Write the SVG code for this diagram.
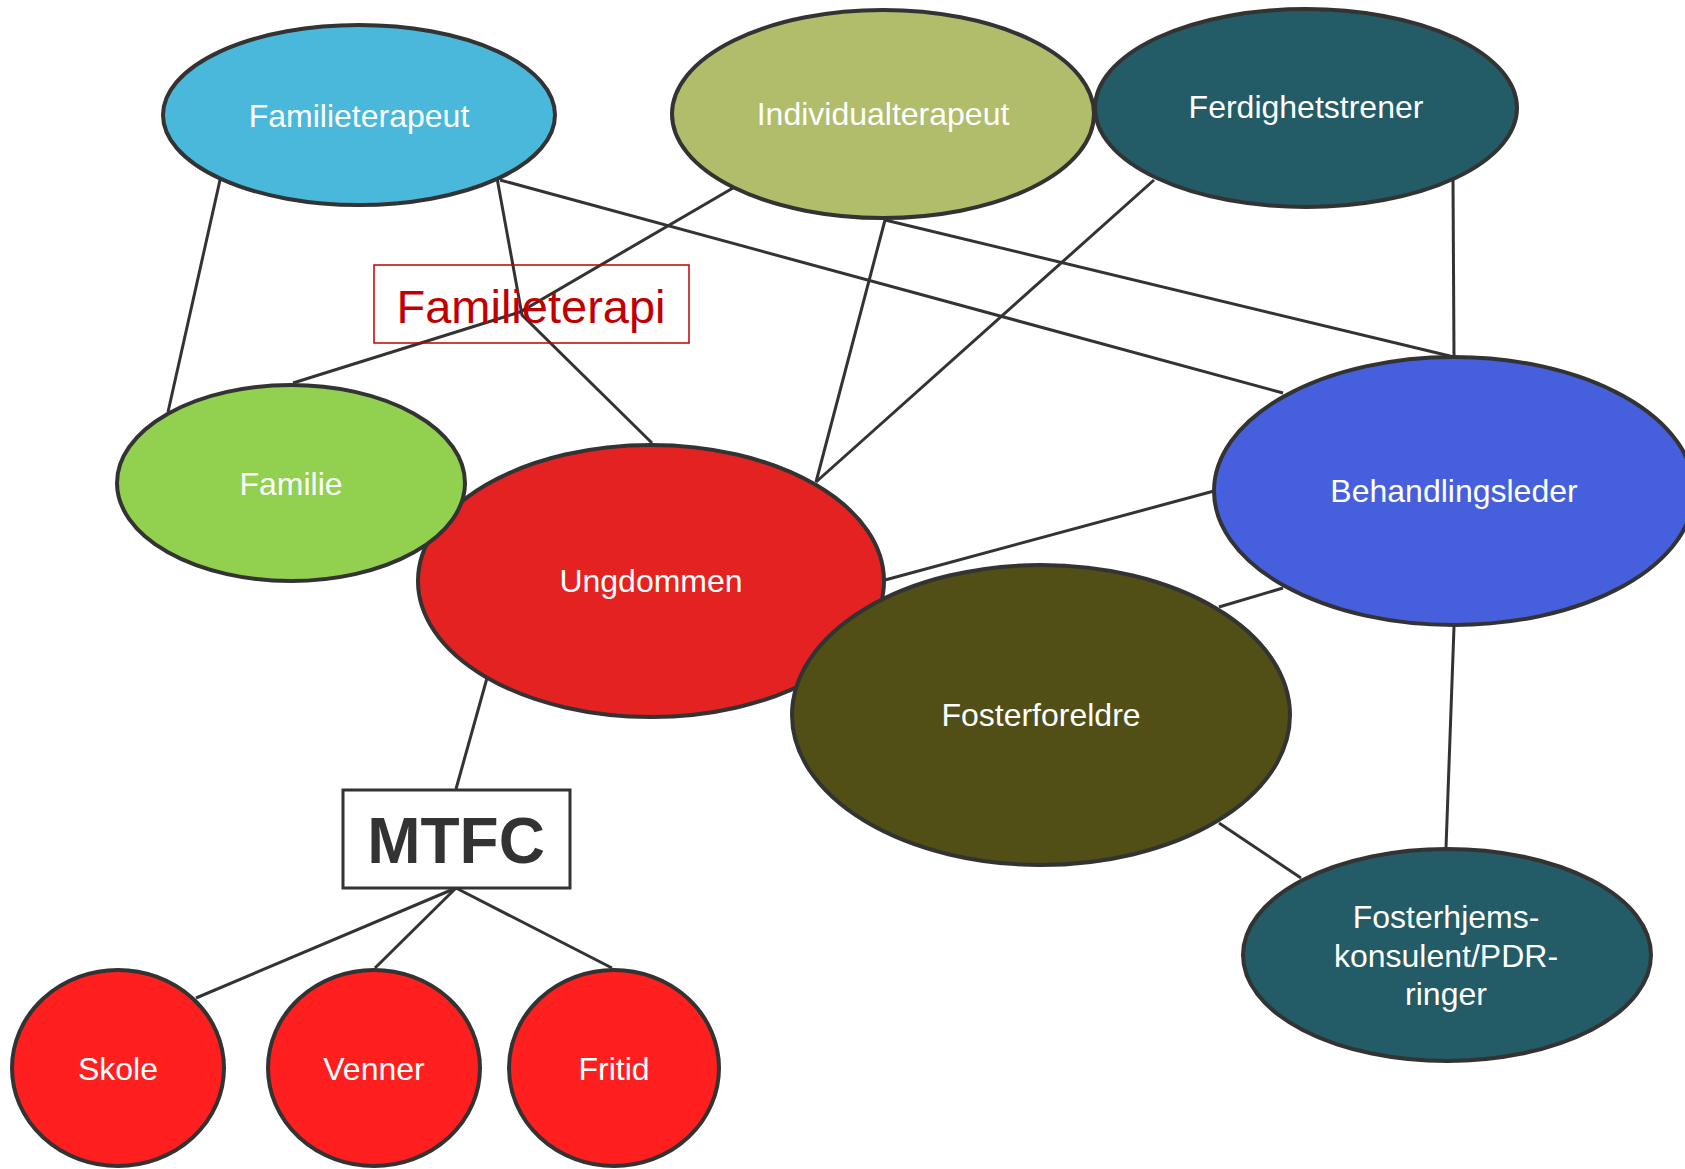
<svg xmlns="http://www.w3.org/2000/svg" width="1685" height="1169" viewBox="0 0 1685 1169">
<style>
.n{stroke:#333333;stroke-width:4}
.c line,.c polyline{stroke:#333333;stroke-width:3;fill:none}
.t{font-family:"Liberation Sans",Arial,sans-serif;font-size:32px;fill:#ffffff;text-anchor:middle}
</style>
<rect width="1685" height="1169" fill="#ffffff"/>
<g id="connectors" class="c">
<line x1="220" y1="180" x2="168" y2="412"/>
<polyline points="497,178 522,315 652,443"/>
<polyline points="733,188 520,312 293,383"/>
<line x1="500" y1="180" x2="1283" y2="393"/>
<line x1="885" y1="220" x2="1454" y2="357"/>
<line x1="885" y1="220" x2="816" y2="482"/>
<line x1="1154" y1="180" x2="816" y2="482"/>
<line x1="1453" y1="180" x2="1454" y2="357"/>
<line x1="1214" y1="491" x2="885" y2="580"/>
<line x1="1283" y1="588" x2="1219" y2="607"/>
<line x1="1454" y1="627" x2="1446" y2="848"/>
<line x1="1219" y1="823" x2="1301" y2="878"/>
<line x1="487" y1="678" x2="456" y2="789"/>
<line x1="456" y1="888" x2="196" y2="998"/>
<line x1="456" y1="888" x2="375" y2="968"/>
<line x1="456" y1="888" x2="612" y2="968"/>
</g>
<g id="familieterapeut">
<ellipse class="n" cx="359" cy="115" rx="196" ry="90" fill="#4AB8DB"/>
<text class="t" x="359" y="127">Familieterapeut</text>
</g>
<g id="individualterapeut">
<ellipse class="n" cx="883" cy="114" rx="211" ry="104" fill="#B1BD6A"/>
<text class="t" x="883" y="125">Individualterapeut</text>
</g>
<g id="ferdighetstrener">
<ellipse class="n" cx="1306" cy="108" rx="211" ry="99" fill="#235B66"/>
<text class="t" x="1306" y="118">Ferdighetstrener</text>
</g>
<g id="ungdommen">
<ellipse class="n" cx="651" cy="581" rx="233" ry="136" fill="#E52222"/>
<text class="t" x="651" y="592">Ungdommen</text>
</g>
<g id="familie">
<ellipse class="n" cx="291" cy="483" rx="174" ry="98" fill="#92D050"/>
<text class="t" x="291" y="495">Familie</text>
</g>
<g id="behandlingsleder">
<ellipse class="n" cx="1454" cy="491" rx="240" ry="134" fill="#4660DD"/>
<text class="t" x="1454" y="502">Behandlingsleder</text>
</g>
<g id="fosterforeldre">
<ellipse class="n" cx="1041" cy="715" rx="249" ry="150" fill="#514F16"/>
<text class="t" x="1041" y="726">Fosterforeldre</text>
</g>
<g id="fosterhjemskonsulent">
<ellipse class="n" cx="1447" cy="955" rx="204" ry="106" fill="#235B66"/>
<text class="t" x="1446" y="928">Fosterhjems-</text>
<text class="t" x="1446" y="967">konsulent/PDR-</text>
<text class="t" x="1446" y="1005">ringer</text>
</g>
<g id="mtfc">
<rect x="343" y="790" width="227" height="98" fill="#ffffff" stroke="#333333" stroke-width="3"/>
<text x="456" y="863" font-family="'Liberation Sans',Arial,sans-serif" font-size="64" font-weight="bold" fill="#333333" text-anchor="middle">MTFC</text>
</g>
<g id="skole">
<ellipse class="n" cx="118" cy="1068" rx="106" ry="98" fill="#FF1F1F"/>
<text class="t" x="118" y="1080">Skole</text>
</g>
<g id="venner">
<ellipse class="n" cx="374" cy="1068" rx="106" ry="98" fill="#FF1F1F"/>
<text class="t" x="374" y="1080">Venner</text>
</g>
<g id="fritid">
<ellipse class="n" cx="614" cy="1068" rx="105" ry="98" fill="#FF1F1F"/>
<text class="t" x="614" y="1080">Fritid</text>
</g>
<g id="familieterapi">
<rect x="374" y="265" width="315" height="78" fill="none" stroke="#C00000" stroke-width="1.5"/>
<text x="531" y="323" font-family="'Liberation Sans',Arial,sans-serif" font-size="47" fill="#C00000" text-anchor="middle">Familieterapi</text>
</g>
</svg>
